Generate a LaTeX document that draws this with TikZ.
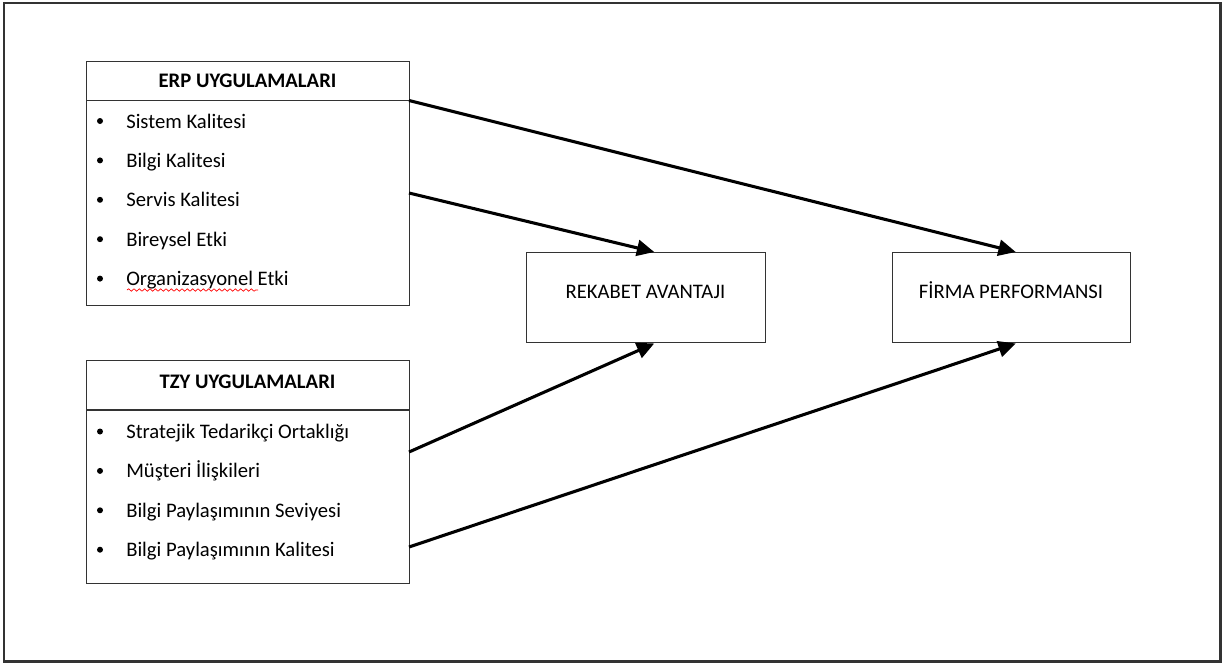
\documentclass[tikz,border=0pt]{standalone}
\usepackage{fontspec}
\setmainfont{Carlito}
\usetikzlibrary{arrows.meta,decorations.pathmorphing}
\definecolor{frame}{HTML}{333333}
\begin{document}
\begin{tikzpicture}[x=0.75pt,y=-0.75pt,
  font=\fontsize{15.5}{18}\selectfont,
  panel/.style={draw=frame,line width=1.1pt,inner sep=0pt,anchor=north west,fill=white},
  item/.style={anchor=base west,inner sep=0pt},
  head/.style={anchor=base,inner sep=0pt,font=\fontsize{15.5}{18}\selectfont\bfseries},
  dot/.style={fill=black},
  link/.style={line width=2.3pt,-{Triangle[length=13pt,width=12pt]}}]
\useasboundingbox (0,0) rectangle (1223,664);
% outer frame
\draw[frame,line width=1.6pt] (4,3) rectangle (1220.5,661.5);

% ERP block
\node[panel,minimum width=242.25pt,minimum height=183pt] (erp) at (86,61) {};
\draw[frame,line width=1.1pt] (86,100.5) -- (409,100.5);
\node[head] (erph) at (247.5,87) {ERP UYGULAMALARI};
\foreach \t [count=\i] in {Sistem Kalitesi,Bilgi Kalitesi,Servis Kalitesi,Bireysel Etki,Organizasyonel Etki}{
  \pgfmathsetmacro\yy{128+39.4*(\i-1)}
  \fill[dot] (100,\yy-7) circle (3);
  \node[item] (erp\i) at (126,\yy) {\t};
}
\draw[red,line width=0.5pt,decorate,decoration={snake,amplitude=0.9,segment length=4}] (127,290) -- (258,290);

% TZY block
\node[panel,minimum width=242.25pt,minimum height=167.25pt] (tzy) at (86,360) {};
\draw[frame,line width=1.1pt] (86,410) -- (409,410);
\node[head] (tzyh) at (247.5,388) {TZY UYGULAMALARI};
\foreach \t [count=\i] in {Stratejik Tedarikçi Ortaklığı,Müşteri İlişkileri,Bilgi Paylaşımının Seviyesi,Bilgi Paylaşımının Kalitesi}{
  \pgfmathsetmacro\yy{438.5+39.4*(\i-1)}
  \fill[dot] (100,\yy-7) circle (3);
  \node[item] (tzy\i) at (126,\yy) {\t};
}

% outcome boxes
\node[panel,minimum width=179.25pt,minimum height=67.5pt] (rek) at (526,252) {};
\node[anchor=base,inner sep=0pt] (rekt) at (645.5,298) {REKABET AVANTAJI};
\node[panel,minimum width=178.5pt,minimum height=67.5pt] (fir) at (892,252) {};
\node[anchor=base,inner sep=0pt] (firt) at (1011,298) {FİRMA PERFORMANSI};

% connector start points on the right side of the left blocks
\coordinate (s1) at (409,100.5);
\coordinate (s2) at (409,193);
\coordinate (s3) at (409,452);
\coordinate (s4) at (409,547);

\draw[link] (s1) -- ([xshift=3pt]fir.north);
\draw[link] (s2) -- ([xshift=6pt]rek.north);
\draw[link] (s3) -- ([xshift=6pt]rek.south);
\draw[link] (s4) -- ([xshift=3pt]fir.south);
\end{tikzpicture}
\end{document}
